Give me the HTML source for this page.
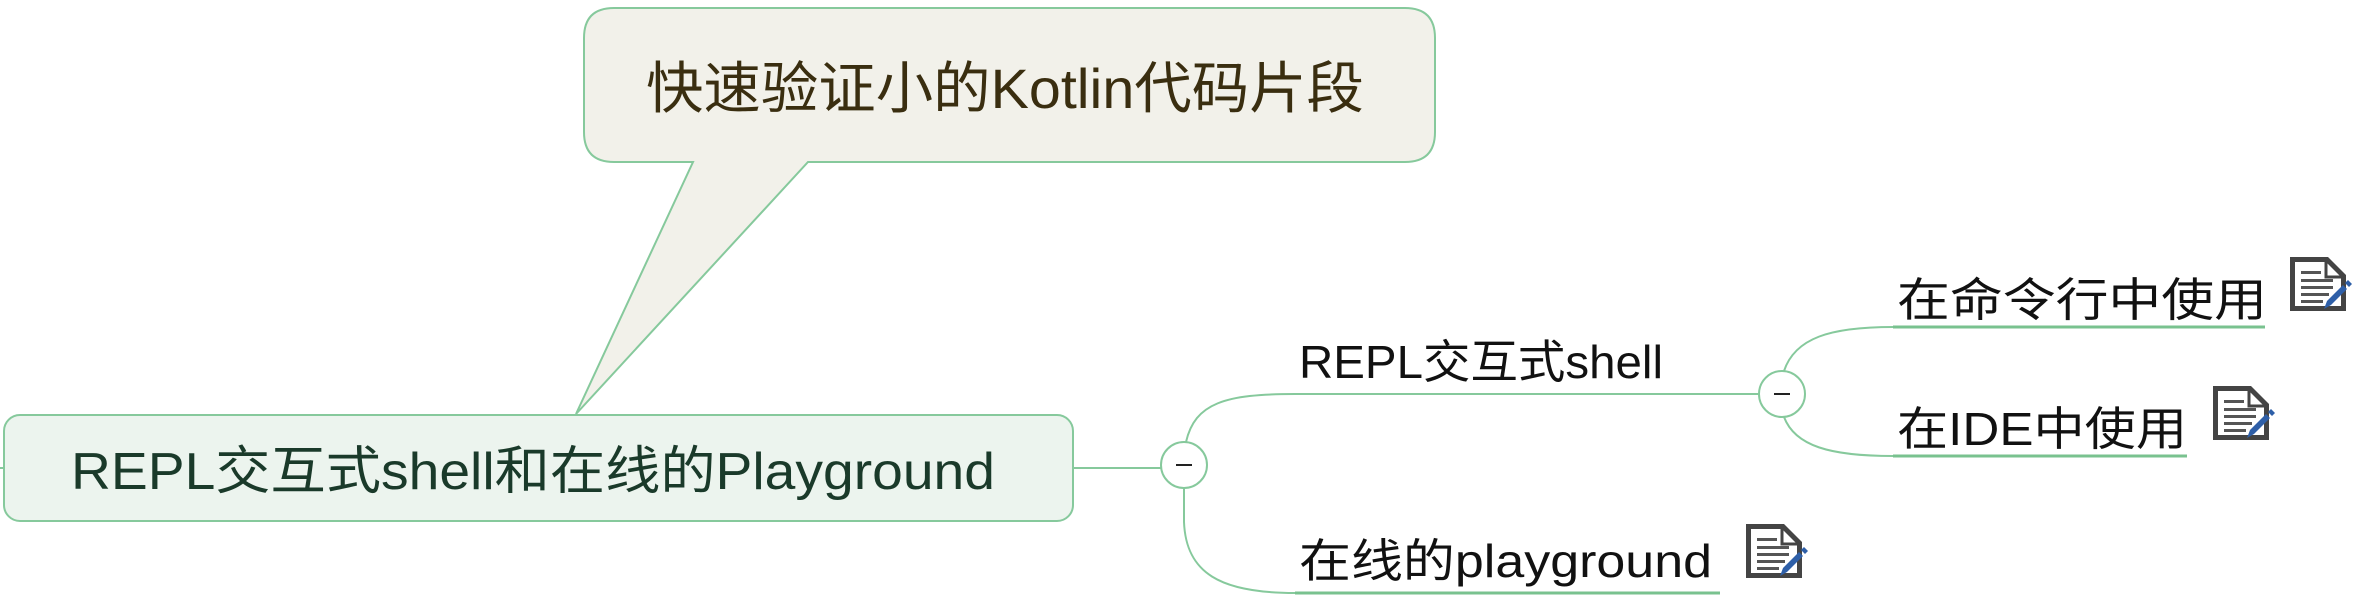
<!DOCTYPE html>
<html><head><meta charset="utf-8"><style>
html,body{margin:0;padding:0;background:#fff;width:2376px;height:604px;overflow:hidden}
svg{display:block}
text{font-family:"Liberation Sans","Noto Sans CJK SC",sans-serif}
</style></head><body>
<svg width="2376" height="604" viewBox="0 0 2376 604" xmlns="http://www.w3.org/2000/svg">
<defs>
<g id="ic">
<path d="M0 0 H38 L56 18 V54 H0 Z" fill="#444"/>
<path d="M5 5 H36 L51 20 V49 H5 Z" fill="#fff"/>
<path d="M36 5 V20 H51" fill="none" stroke="#444" stroke-width="3"/>
<rect x="11" y="14" width="20" height="3" fill="#555"/>
<rect x="11" y="22" width="32" height="3" fill="#555"/>
<rect x="11" y="29" width="32" height="3" fill="#555"/>
<rect x="11" y="36" width="28" height="3" fill="#555"/>
<rect x="11" y="43" width="22" height="3" fill="#555"/>
<path d="M34 52 L37 44 L53 28 L57 32 L41 48 Z" fill="#2e5fa8"/>
<path d="M55 26 L58 23 L62 27 L59 30 Z" fill="#2e5fa8"/>
</g>
</defs>
<path d="M614 8 H1405 Q1435 8 1435 38 V132 Q1435 162 1405 162 H808 L576 414 L693 162 H614 Q584 162 584 132 V38 Q584 8 614 8 Z" fill="#f2f1ea" stroke="#86c99c" stroke-width="2"/>
<text x="646" y="108" font-size="56" fill="#3a2e10" textLength="718" lengthAdjust="spacingAndGlyphs">快速验证小的Kotlin代码片段</text>
<rect x="4" y="415" width="1069" height="106" rx="16" fill="#ecf4ee" stroke="#86c99c" stroke-width="2"/>
<text x="71" y="489" font-size="52" fill="#1a3a2a" textLength="924" lengthAdjust="spacingAndGlyphs">REPL交互式shell和在线的Playground</text>
<line x1="0" y1="468" x2="4" y2="468" stroke="#86c99c" stroke-width="2"/>
<g fill="none" stroke="#86c99c" stroke-width="2">
<line x1="1073" y1="468" x2="1161" y2="468"/>
<path d="M1186 442 C1195 403 1225 394 1295 394 H1759"/>
<path d="M1184 488 V522 C1186 573 1220 593 1295 593"/>
<path d="M1784 371 C1795 338 1830 327 1893 327"/>
<path d="M1784 417 C1795 446 1830 456 1893 456"/>
</g>
<g fill="none" stroke="#79c28f" stroke-width="3">
<line x1="1295" y1="593" x2="1720" y2="593"/>
<line x1="1893" y1="327" x2="2265" y2="327"/>
<line x1="1893" y1="456" x2="2187" y2="456"/>
</g>
<circle cx="1184" cy="465" r="23" fill="#fff" stroke="#86c99c" stroke-width="2"/>
<line x1="1176" y1="465" x2="1192" y2="465" stroke="#222" stroke-width="2"/>
<circle cx="1782" cy="394" r="23" fill="#fff" stroke="#86c99c" stroke-width="2"/>
<line x1="1774" y1="394" x2="1790" y2="394" stroke="#222" stroke-width="2"/>
<text x="1299" y="378" font-size="46" fill="#111" textLength="364" lengthAdjust="spacingAndGlyphs">REPL交互式shell</text>
<text x="1299" y="577" font-size="46" fill="#111" textLength="413" lengthAdjust="spacingAndGlyphs">在线的playground</text>
<text x="1897" y="316" font-size="46" fill="#111" textLength="370" lengthAdjust="spacingAndGlyphs">在命令行中使用</text>
<text x="1897" y="445" font-size="46" fill="#111" textLength="290" lengthAdjust="spacingAndGlyphs">在IDE中使用</text>
<use href="#ic" x="2290" y="257"/>
<use href="#ic" x="2213" y="386"/>
<use href="#ic" x="1746" y="524"/>
</svg>
</body></html>
